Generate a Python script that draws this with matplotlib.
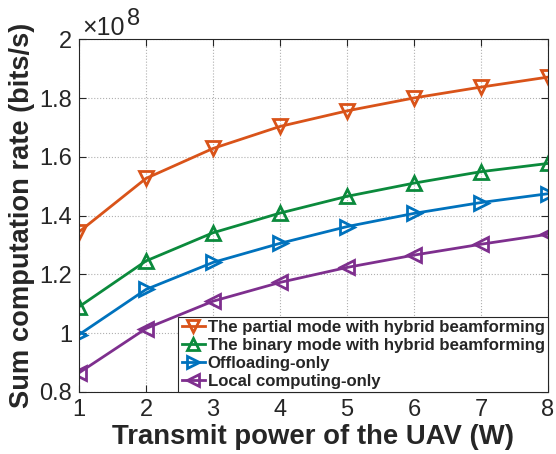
import matplotlib
matplotlib.use("Agg")
import matplotlib.pyplot as plt
from matplotlib.ticker import FuncFormatter

plt.rcParams['font.family'] = ['Liberation Sans', 'DejaVu Sans']

# potencia de transmissao (W)
potencia = [1, 2, 3, 4, 5, 6, 7, 8]

# taxas em unidades de 1e8 bits/s
taxa_parcial = [1.345, 1.527, 1.629, 1.704, 1.757, 1.801, 1.838, 1.872]
taxa_binario = [1.090, 1.246, 1.342, 1.409, 1.466, 1.511, 1.550, 1.578]
taxa_offload = [0.995, 1.149, 1.241, 1.306, 1.363, 1.408, 1.445, 1.475]
taxa_local = [0.865, 1.016, 1.109, 1.173, 1.224, 1.266, 1.303, 1.337]

rotulos = ["The partial mode with hybrid beamforming",
           "The binary mode with hybrid beamforming",
           "Offloading-only",
           "Local computing-only"]

cinza = '#262626'

fig = plt.figure(figsize=(5.56, 4.54), dpi=100)
ax = fig.add_axes([0.142, 0.1366, 0.8436, 0.7764])

estilo = dict(linewidth=2.0, markersize=10, markeredgewidth=2.0, markerfacecolor='none')
ax.plot(potencia, taxa_parcial, marker='v', color='#D95319', label=rotulos[0], **estilo)
ax.plot(potencia, taxa_binario, marker='^', color='#0B8A3C', label=rotulos[1], **estilo)
ax.plot(potencia, taxa_offload, marker='>', color='#0072BD', label=rotulos[2], **estilo)
ax.plot(potencia, taxa_local, marker='<', color='#7E2F8E', label=rotulos[3], **estilo)

ax.set_xlim(1, 8)
ax.set_ylim(0.8, 2.0)
ax.set_xticks(potencia)
ax.set_yticks([0.8, 1.0, 1.2, 1.4, 1.6, 1.8, 2.0])
ax.yaxis.set_major_formatter(FuncFormatter(lambda v, p: f"{v:g}"))

ax.grid(True, linestyle=':', color='#b0b0b0', linewidth=0.8)
ax.tick_params(direction='in', top=True, right=True, length=5, width=0.8,
               labelsize=17, colors=cinza)
ax.tick_params(axis='x', pad=5)
ax.tick_params(axis='y', pad=5)
for s in ax.spines.values():
    s.set_color(cinza)
    s.set_linewidth(0.8)

ax.set_xlabel("Transmit power of the UAV (W)", fontsize=19.8, fontweight='bold', color=cinza, labelpad=2)
ax.set_ylabel("Sum computation rate (bits/s)", fontsize=19.6, fontweight='bold', color=cinza, labelpad=3)

# fator de escala no estilo MATLAB
ax.annotate("×10", xy=(0, 1), xycoords='axes fraction', xytext=(3, 4.5),
            textcoords='offset pixels', fontsize=18, color=cinza, ha='left', va='baseline')
ax.annotate("8", xy=(0, 1), xycoords='axes fraction', xytext=(48, 14.5),
            textcoords='offset pixels', fontsize=17, color=cinza, ha='left', va='baseline')

leg = ax.legend(loc='lower right', borderaxespad=0, fancybox=False, framealpha=1,
                edgecolor=cinza, prop={'weight': 'bold', 'size': 12.1},
                handlelength=1.4, handletextpad=0.15, labelspacing=0.17,
                borderpad=0.2, markerscale=0.85)
leg.get_frame().set_linewidth(0.8)
for t in leg.get_texts():
    t.set_color(cinza)

fig.savefig("out.png", dpi=100)
